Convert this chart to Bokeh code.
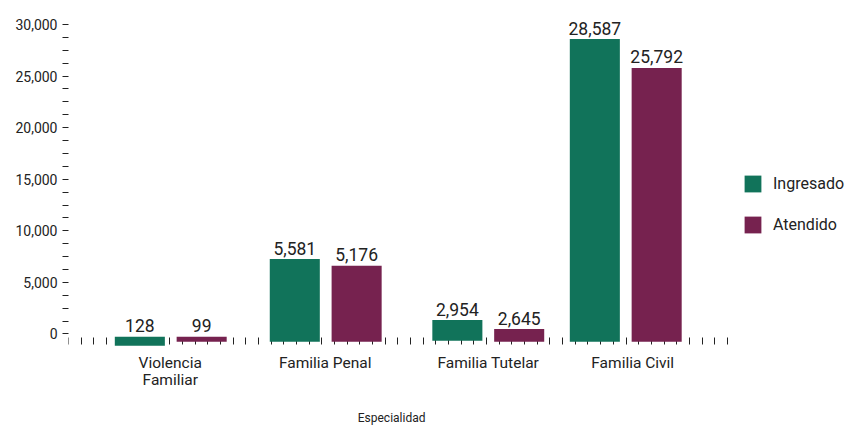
from bokeh.plotting import figure
from bokeh.models import Range1d, FixedTicker, NumeralTickFormatter, Legend, LegendItem, Label, LinearAxis
from bokeh.embed import file_html
from bokeh.resources import INLINE
from bokeh.core.properties import value

# ---------------- data ----------------
categories = ["Violencia\nFamiliar", "Familia Penal", "Familia Tutelar", "Familia Civil"]
series = ["Ingresado", "Atendido"]
ingresado = [128, 5581, 2954, 28587]
atendido = [99, 5176, 2645, 25792]
# bar extents as they are drawn in the reference picture (axis units)
ingresado_top = [-260, 7260, 1355, 28587]
ingresado_bottom = [-1130, -745, -650, -745]
atendido_top = [-260, 6610, 484, 25792]
atendido_bottom = [-745, -745, -745, -745]
y_ticks = [0, 5000, 10000, 15000, 20000, 25000, 30000]
axis_title = "Especialidad"

# ---------------- layout / style ----------------
group_x = [8.07, 20.30, 33.13, 43.98]
label_x = [8.03, 20.26, 33.13, 44.53]
offset = 2.44
bar_w = 3.95
cat_label_y = -1900
title_x, title_y = 25.5, -8190
GREEN = "#11735A"
PURPLE = "#76224F"
TXT = "#222222"
FONT = "Roboto"

p = figure(width=848, height=425, x_range=Range1d(0, 61.56), y_range=Range1d(-8869, 30581),
           output_backend="svg", toolbar_location=None, x_axis_location=None,
           min_border_left=68, min_border_right=0, min_border_top=18, min_border_bottom=0)
p.outline_line_color = None
p.grid.visible = False
p.background_fill_color = "white"

xg = [g - offset for g in group_x]
xa = [g + offset for g in group_x]
r1 = p.vbar(x=xg, width=bar_w, top=ingresado_top, bottom=ingresado_bottom,
            fill_color=GREEN, line_color=None)
r2 = p.vbar(x=xa, width=bar_w, top=atendido_top, bottom=atendido_bottom,
            fill_color=PURPLE, line_color=None)

for xs, tops, vals in ((xg, ingresado_top, ingresado), (xa, atendido_top, atendido)):
    p.text(x=xs, y=tops, text=[f"{v:,}" for v in vals], text_align="center",
           text_baseline="alphabetic", y_offset=-11, text_font=value(FONT),
           text_font_size="17.5px", text_color=TXT)

# category labels
p.text(x=label_x, y=[cat_label_y] * len(categories), text=categories, text_align="center",
       text_baseline="top", text_line_height=0.98, text_font=value(FONT),
       text_font_size="15.5px", text_color=TXT)

# y axis
ya = p.yaxis[0]
ya.ticker = FixedTicker(ticks=y_ticks,
                        minor_ticks=[t + k * 1250 for t in y_ticks[:-1] for k in (1, 2, 3)])
ya.formatter = NumeralTickFormatter(format="0,0")
ya.axis_line_color = None
ya.major_tick_out = 6
ya.major_tick_in = 0
ya.minor_tick_out = 6
ya.minor_tick_in = 0
ya.major_tick_line_color = TXT
ya.minor_tick_line_color = TXT
ya.major_label_standoff = 5
ya.major_label_text_font = FONT
ya.major_label_text_font_size = "14px"
ya.major_label_text_color = TXT

# x axis: only small tick marks, drawn at a fixed location under the bars
xt = LinearAxis(ticker=FixedTicker(ticks=[], minor_ticks=list(range(53))),
                fixed_location=-340, level="underlay", axis_line_color=None,
                major_tick_out=0, major_tick_in=0, minor_tick_out=0, minor_tick_in=7,
                minor_tick_line_color=TXT, major_label_text_font_size="0px",
                major_label_standoff=0)
p.add_layout(xt, "above")

p.add_layout(Label(x=title_x, y=title_y, text=axis_title, text_align="center",
                   text_baseline="middle", text_font=FONT, text_font_size="12px",
                   text_color=TXT))

legend = Legend(items=[LegendItem(label=series[0], renderers=[r1]),
                       LegendItem(label=series[1], renderers=[r2])],
                location=(674, 190), orientation="vertical",
                glyph_width=21, glyph_height=21, label_standoff=10, spacing=20,
                padding=0, margin=0, border_line_color=None, background_fill_alpha=0,
                label_text_font=FONT, label_text_font_size="16px", label_text_color=TXT,
                label_text_baseline="middle")
p.add_layout(legend)

open("out.html", "w").write(file_html(p, INLINE))
